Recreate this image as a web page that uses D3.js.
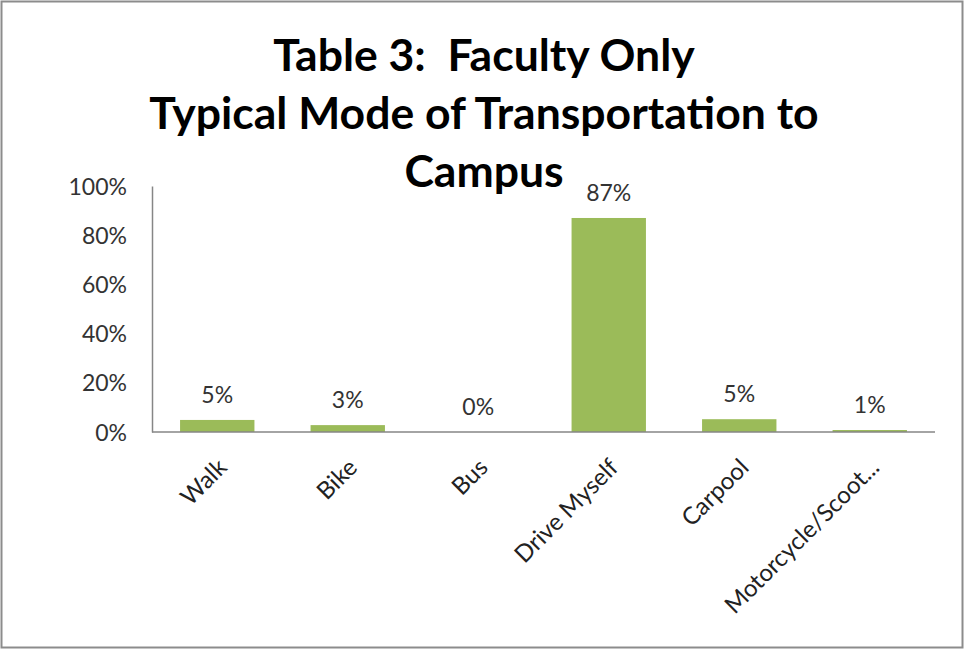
<!DOCTYPE html>
<html><head><meta charset="utf-8">
<script src="https://cdn.jsdelivr.net/npm/d3@7"></script>
<style>
body{margin:0;background:#fff;}
svg text{font-family:Lato,"Open Sans",sans-serif;}
</style></head>
<body>
<svg id="c" width="965" height="650"></svg>
<script>
const categories = ["Walk","Bike","Bus","Drive Myself","Carpool","Motorcycle/Scoot..."];
const values = [0.049, 0.028, 0, 0.87, 0.052, 0.008];
const yTicks = [0, 0.2, 0.4, 0.6, 0.8, 1.0];
const titleLines = ["Table 3:  Faculty Only","Typical Mode of Transportation to","Campus"];

(function(){
const svg = d3.select("#c");
svg.append("rect").attr("x",1.5).attr("y",1.5).attr("width",961).attr("height",646)
  .attr("fill","#fff").attr("stroke","#8c8c8c").attr("stroke-width",2);

const pLeft=152, pRight=935, pTop=186, pBottom=432;
const x = d3.scaleBand().domain(categories).range([pLeft,pRight]).paddingInner(0.43).paddingOuter(0.215);
const y = d3.scaleLinear().domain([0,1]).range([pBottom,pTop]);

const tg = svg.append("g");
tg.selectAll("text").data(titleLines).join("text")
  .attr("x",484).attr("y",(d,i)=>71+i*58).attr("text-anchor","middle")
  .style("white-space","pre")
  .attr("font-size",44.5).attr("font-weight","bold").attr("fill","#000").text(d=>d);

const yAxis = svg.append("g").attr("transform",`translate(${pLeft},0)`)
  .call(d3.axisLeft(y).tickValues(yTicks).tickFormat(d3.format(".0%")).tickSize(0).tickPadding(25));
yAxis.select(".domain").attr("stroke","#868686").attr("stroke-width",1.5);
yAxis.selectAll("text").attr("font-size",23).attr("fill","#333").attr("font-family","Lato,sans-serif").attr("dy","0.35em");

svg.append("g").selectAll("rect").data(values).join("rect")
  .attr("x",(d,i)=>x(categories[i])).attr("width",x.bandwidth())
  .attr("y",d=>y(d)).attr("height",d=>pBottom-y(d)).attr("fill","#9bbb59");

const xAxis = svg.append("g").attr("transform",`translate(0,${pBottom})`)
  .call(d3.axisBottom(x).tickSize(0).tickPadding(0));
xAxis.select(".domain").attr("stroke","#868686").attr("stroke-width",1.5).attr("d",`M${pLeft},0H${pRight}`);
xAxis.selectAll("text").attr("font-size",24).attr("fill","#222").attr("font-family","Lato,sans-serif")
  .attr("text-anchor","end").attr("dy",0).attr("transform","translate(11,37) rotate(-45)");

svg.append("g").selectAll("text").data(values).join("text")
  .attr("x",(d,i)=>x(categories[i])+x.bandwidth()/2).attr("y",d=>y(d)-17)
  .attr("text-anchor","middle").attr("font-size",23).attr("fill","#333")
  .text(d=>d3.format(".0%")(d));
})();
</script>
</body></html>
